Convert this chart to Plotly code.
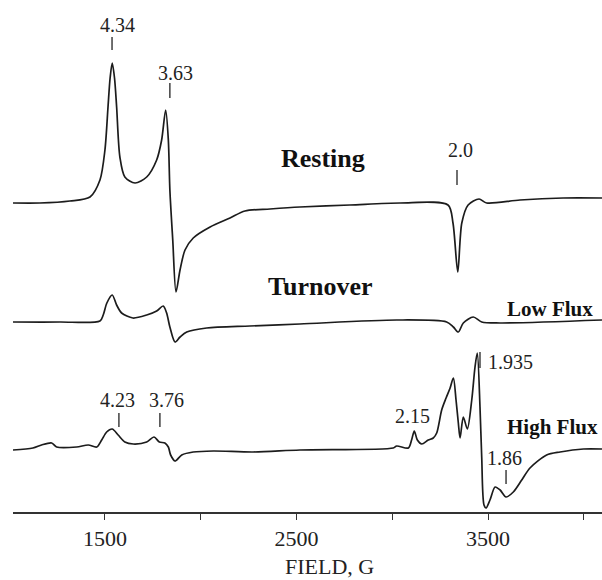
import plotly.graph_objects as go

# EPR spectra: field (G) and derivative signal (a.u., relative to each trace's baseline)
resting_field = [1020, 1160, 1317, 1422, 1474, 1500, 1516, 1527, 1538, 1550, 1561, 1578, 1604, 1657,
                 1718, 1770, 1796, 1817, 1831, 1839, 1854, 1871, 1892, 1918, 1961, 2049, 2153, 2231,
                 2362, 2518, 2779, 3041, 3291, 3317, 3342, 3363, 3396, 3453, 3493, 3667, 3892, 4095]
resting_signal = [0, 0, 2, 6, 23, 53, 96, 125, 140, 125, 96, 46, 26, 20,
                  26, 43, 63, 93, 63, 13, -37, -89, -67, -47, -35, -24, -15, -8,
                  -6, -4, -2, 0, -2, -20, -69, -20, -2, 4, 0, 3, 5, 5]

lowflux_field = [1020, 1265, 1474, 1491, 1510, 1538, 1561, 1587, 1646, 1718, 1770, 1804, 1822,
                 1839, 1866, 1892, 1927, 2031, 2257, 2518, 3023, 3284, 3319, 3345, 3371, 3423,
                 3467, 3563, 4095]
lowflux_signal = [0, 0, 1, 7, 19, 27, 17, 9, 4, 7, 11, 16, 9,
                  -5, -20, -15, -10, -6, -4, -2, 2, 0, -5, -10, -1, 5,
                  0, -1, 2]

highflux_field = [1020, 1124, 1169, 1222, 1248, 1352, 1413, 1457, 1483, 1509, 1538, 1569, 1604,
                  1648, 1718, 1756, 1784, 1813, 1831, 1843, 1866, 1901, 1961, 2066, 2273, 2518,
                  3005, 3023, 3084, 3101, 3115, 3131, 3154, 3188, 3214, 3232, 3258, 3281, 3302,
                  3319, 3333, 3345, 3354, 3371, 3392, 3415, 3432, 3444, 3458, 3467, 3479, 3490,
                  3510, 3537, 3563, 3594, 3632, 3676, 3719, 3806, 3876, 3998, 4095]
highflux_signal = [-1, 1, 4, 6, 2, 2, 4, 2, 9, 17, 20, 14, 7,
                   5, 7, 12, 7, 6, 2, -6, -12, -6, -3, -2, -3, -1,
                   1, 3, 1, 9, 18, 9, 5, 9, 11, 16, 39, 51, 61,
                   71, 49, 26, 11, 32, 20, 49, 82, 96, 42, -8, -56, -59,
                   -51, -38, -41, -48, -43, -31, -19, -6, -3, 0, 0]

# vertical offsets that stack the three spectra
offsets = {"Resting": 309, "Low Flux": 190, "High Flux": 63}

# g-value labels: (text, label x, label y, tick x, tick y0, tick y1)
g_labels = [
    ("4.34", 1563, 487, 1537, 462, 475),
    ("3.63", 1866, 439, 1839, 414, 429),
    ("2.0", 3354, 362, 3338, 327, 342),
    ("4.23", 1568, 112, 1573, 85, 99),
    ("3.76", 1819, 112, 1787, 85, 99),
    ("2.15", 3108, 96, None, None, None),
    ("1.935", 3615, 150, 3458, 144, 160),
    ("1.86", 3584, 54, 3594, 28, 42),
]

# trace names: (text, x, y, size)
trace_names = [
    ("Resting", 2638, 354, 26),
    ("Turnover", 2623, 226, 26),
    ("Low Flux", 3824, 203, 21),
    ("High Flux", 3839, 85, 21),
]

line_color = "#1c1c1c"
serif = "Liberation Serif, Times New Roman, serif"

fig = go.Figure()
for name, fx, sy in [("Resting", resting_field, resting_signal),
                     ("Low Flux", lowflux_field, lowflux_signal),
                     ("High Flux", highflux_field, highflux_signal)]:
    off = offsets[name]
    fig.add_trace(go.Scatter(
        x=fx, y=[v + off for v in sy], mode="lines", name=name,
        line=dict(color=line_color, width=1.7, shape="spline", smoothing=0.8),
        hoverinfo="skip", showlegend=False))

annotations = []
shapes = []
for text, lx, ly, tx, t0, t1 in g_labels:
    annotations.append(dict(x=lx, y=ly, xref="x", yref="y", text=text, showarrow=False,
                            xanchor="center", yanchor="middle",
                            font=dict(family=serif, size=20, color="#222")))
    if tx is not None:
        shapes.append(dict(type="line", xref="x", yref="y", x0=tx, x1=tx, y0=t0, y1=t1,
                           line=dict(color="#222", width=1.3)))

for text, lx, ly, size in trace_names:
    annotations.append(dict(x=lx, y=ly, xref="x", yref="y", text="<b>" + text + "</b>",
                            showarrow=False, xanchor="center", yanchor="middle",
                            font=dict(family=serif, size=size, color="#111")))

# axis title, placed flush with the bottom edge of the figure
annotations.append(dict(x=0.538, y=-68 / 512, xref="paper", yref="paper", text="FIELD, G",
                        showarrow=False, xanchor="center", yanchor="bottom", borderpad=0,
                        font=dict(family=serif, size=22, color="#222")))

fig.update_layout(
    width=602, height=580,
    margin=dict(l=13, r=0, t=0, b=68),
    paper_bgcolor="white", plot_bgcolor="white",
    annotations=annotations, shapes=shapes,
    xaxis=dict(range=[1020, 4095], autorange=False, showgrid=False, zeroline=False,
               showline=True, linecolor="#333", linewidth=1.6,
               ticks="outside", ticklen=6, tickwidth=1.4, tickcolor="#333",
               tickvals=[1500, 2500, 3500], ticktext=["1500", "2500", "3500"],
               tickfont=dict(family=serif, size=22, color="#222"),
               minor=dict(tickvals=[2000, 3000, 4000], ticks="outside", ticklen=6,
                          tickwidth=1.4, tickcolor="#333")),
    yaxis=dict(range=[0, 512], autorange=False, visible=False),
)

fig.write_html("out.html")
